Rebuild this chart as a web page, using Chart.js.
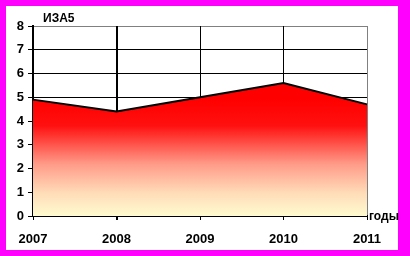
<!DOCTYPE html>
<html><head><meta charset="utf-8">
<script src="https://cdn.jsdelivr.net/npm/chart.js@4"></script>
<style>html,body{margin:0;padding:0;background:#fff;}#wrap{position:absolute;left:0;top:0;width:410px;height:256px;}</style>
</head><body>
<div id="wrap"><canvas id="c" width="410" height="256"></canvas></div>
<script>
const years = ['2007', '2008', '2009', '2010', '2011'];
const izaValues = [4.9, 4.4, 5.0, 5.6, 4.7];
const yTicks = [0, 1, 2, 3, 4, 5, 6, 7, 8];
const chartTitle = 'ИЗА5';
const xAxisTitle = 'годы';

const FONT = "'Liberation Sans', Arial, sans-serif";

const framePlugin = {
  id: 'frame',
  beforeDraw(chart) {
    const ctx = chart.ctx;
    ctx.save();
    ctx.fillStyle = '#ff00ff';
    ctx.fillRect(0, 0, chart.width, chart.height);
    ctx.fillStyle = '#ffffff';
    ctx.fillRect(6, 6, 392, 244);
    ctx.restore();
  },
  afterDraw(chart) {
    const ctx = chart.ctx;
    ctx.save();
    ctx.fillStyle = '#000';
    ctx.font = 'bold 12px ' + FONT;
    ctx.textBaseline = 'alphabetic';
    ctx.textAlign = 'left';
    ctx.fillText(chartTitle, 43, 22);
    ctx.font = 'bold 12px ' + FONT;
    ctx.textBaseline = 'middle';
    ctx.fillText(xAxisTitle, 369, 217);
    ctx.restore();
  }
};

new Chart(document.getElementById('c'), {
  type: 'line',
  data: {
    labels: years,
    datasets: [{
      data: izaValues,
      borderColor: '#000',
      borderWidth: 2,
      pointRadius: 0,
      tension: 0,
      fill: 'origin',
      backgroundColor(context) {
        const chart = context.chart;
        const ca = chart.chartArea;
        if (!ca) return '#ff0000';
        const g = chart.ctx.createLinearGradient(0, ca.top + (ca.bottom - ca.top) * 0.39, 0, ca.bottom);
        g.addColorStop(0, '#ff0000');
        g.addColorStop(0.22, '#ff1010');
        g.addColorStop(0.55, '#ff9a88');
        g.addColorStop(0.8, '#ffdcb8');
        g.addColorStop(1, '#fffbd0');
        return g;
      }
    }]
  },
  options: {
    responsive: false,
    animation: false,
    events: [],
    layout: { padding: { left: 0, top: 26, right: 43, bottom: 0 } },
    plugins: { legend: { display: false }, tooltip: { enabled: false }, title: { display: false } },
    scales: {
      y: {
        min: 0, max: 8,
        afterFit(s) { s.width = 33; },
        afterBuildTicks(s) { s.ticks = yTicks.map(v => ({ value: v })); },
        ticks: { color: '#000', font: { family: FONT, size: 13, weight: 'bold' }, padding: 4 },
        grid: {
          color(ctx) { return ctx.tick && ctx.tick.value === 8 ? '#808080' : '#000'; },
          tickColor: '#000',
          lineWidth: 1,
          tickLength: 5
        },
        border: { color: '#000', width: 2 }
      },
      x: {
        offset: false,
        afterFit(s) { s.height = 40; },
        ticks: { color: '#000', font: { family: FONT, size: 13, weight: 'bold' }, padding: 12, maxRotation: 0, autoSkip: false },
        grid: {
          color(ctx) { return ctx.index === 4 ? '#808080' : '#000'; },
          lineWidth(ctx) { return ctx.index === 1 ? 2 : 1; },
          tickColor: '#000',
          tickLength: 4
        },
        border: { color: '#000', width: 2 }
      }
    }
  },
  plugins: [framePlugin]
});
</script>
</body></html>
